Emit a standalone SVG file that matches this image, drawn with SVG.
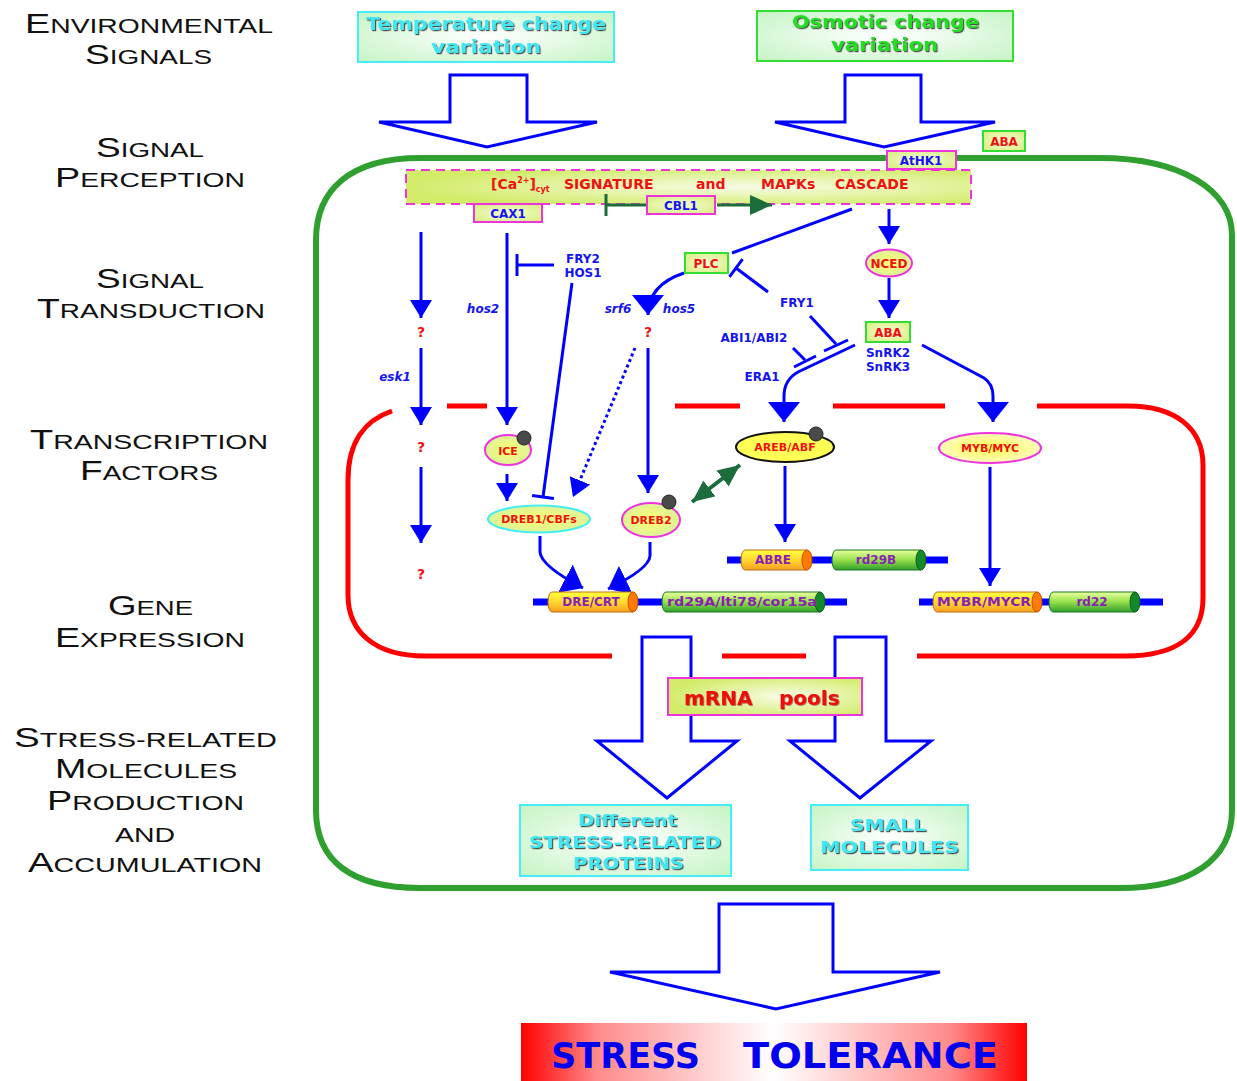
<svg xmlns="http://www.w3.org/2000/svg" width="1237" height="1081" viewBox="0 0 1237 1081">
<defs>
<style>
.lab{font-family:"Liberation Sans",Arial,sans-serif;fill:#111;}
.b{font-family:"DejaVu Sans",Verdana,sans-serif;font-weight:bold;}
.blue{fill:#1414ee;}
.red{fill:#ee1111;}
.purple{fill:#8a1fb4;}
.ln{fill:none;stroke:#0000ff;stroke-width:3;}
.hollow{fill:#fff;stroke:#0000ff;stroke-width:3;stroke-linejoin:miter;}
.nuc{fill:none;stroke:#ff0000;stroke-width:5;}
.cyan{fill:#42e6f0;}
.grn{fill:#22dd22;}
</style>
<filter id="sh" x="-10%" y="-20%" width="120%" height="150%"><feDropShadow dx="1.2" dy="1.2" stdDeviation="0.5" flood-color="#333" flood-opacity="0.85"/></filter>
<filter id="sh2" x="-10%" y="-20%" width="120%" height="150%"><feDropShadow dx="0.8" dy="0.8" stdDeviation="0.4" flood-color="#600" flood-opacity="0.6"/></filter>
<radialGradient id="gBox" cx="0.5" cy="0.5" r="0.7"><stop offset="0" stop-color="#ffffff"/><stop offset="1" stop-color="#c4f4c4"/></radialGradient>
<radialGradient id="gSmall" cx="0.5" cy="0.5" r="0.7"><stop offset="0" stop-color="#f6fbd6"/><stop offset="1" stop-color="#d6ee7a"/></radialGradient>
<radialGradient id="gDash" cx="0.6" cy="0.5" r="0.6"><stop offset="0" stop-color="#f8fce6"/><stop offset="1" stop-color="#d2ec6a"/></radialGradient>
<radialGradient id="gEll" cx="0.5" cy="0.5" r="0.6"><stop offset="0" stop-color="#ffff70"/><stop offset="1" stop-color="#d4f0a0"/></radialGradient>
<radialGradient id="gYel" cx="0.5" cy="0.5" r="0.6"><stop offset="0" stop-color="#ffff50"/><stop offset="1" stop-color="#fffbd0"/></radialGradient>
<linearGradient id="gOr" x1="0" y1="0" x2="0" y2="1"><stop offset="0" stop-color="#ffff40"/><stop offset="0.5" stop-color="#ffd830"/><stop offset="1" stop-color="#f4a020"/></linearGradient>
<linearGradient id="gGr" x1="0" y1="0" x2="0" y2="1"><stop offset="0" stop-color="#e8ffa0"/><stop offset="0.5" stop-color="#96e04a"/><stop offset="1" stop-color="#2f9f2f"/></linearGradient>
<linearGradient id="gTol" x1="0" y1="0" x2="1" y2="0"><stop offset="0" stop-color="#ff0000"/><stop offset="0.15" stop-color="#ff8a8a"/><stop offset="0.5" stop-color="#ffffff"/><stop offset="0.85" stop-color="#ff8a8a"/><stop offset="1" stop-color="#ff0000"/></linearGradient>
<marker id="ah" markerUnits="userSpaceOnUse" markerWidth="18" markerHeight="22" viewBox="0 0 18 22" refX="18" refY="11" orient="auto"><path d="M0,0 L18,11 L0,22 Z" fill="#0000ff"/></marker>
<marker id="big" markerUnits="userSpaceOnUse" markerWidth="20" markerHeight="32" viewBox="0 0 20 32" refX="20" refY="16" orient="auto"><path d="M0,0 L20,16 L0,32 Z" fill="#0000ff"/></marker>
<marker id="tb" markerUnits="userSpaceOnUse" markerWidth="4" markerHeight="22" viewBox="0 0 4 22" refX="2" refY="11" orient="auto"><path d="M2,0 L2,22" stroke="#0000ff" stroke-width="3"/></marker>
<marker id="gtb" markerUnits="userSpaceOnUse" markerWidth="4" markerHeight="22" viewBox="0 0 4 22" refX="2" refY="11" orient="auto"><path d="M2,0 L2,22" stroke="#1b6e3c" stroke-width="3"/></marker>
<marker id="gah" markerUnits="userSpaceOnUse" markerWidth="22" markerHeight="20" viewBox="0 0 22 20" refX="22" refY="10" orient="auto-start-reverse"><path d="M0,0 L22,10 L0,20 Z" fill="#1b6e3c"/></marker>
</defs>
<rect width="1237" height="1081" fill="#fff"/>

<!-- left labels -->
<g id="labels" class="lab">
<text x="25" y="33" textLength="248" lengthAdjust="spacingAndGlyphs"><tspan font-size="28">E</tspan><tspan font-size="21">NVIRONMENTAL</tspan></text>
<text x="85" y="64" textLength="127" lengthAdjust="spacingAndGlyphs"><tspan font-size="28">S</tspan><tspan font-size="21">IGNALS</tspan></text>
<text x="96" y="157" textLength="108" lengthAdjust="spacingAndGlyphs"><tspan font-size="28">S</tspan><tspan font-size="21">IGNAL</tspan></text>
<text x="55" y="187" textLength="190" lengthAdjust="spacingAndGlyphs"><tspan font-size="28">P</tspan><tspan font-size="21">ERCEPTION</tspan></text>
<text x="96" y="288" textLength="108" lengthAdjust="spacingAndGlyphs"><tspan font-size="28">S</tspan><tspan font-size="21">IGNAL</tspan></text>
<text x="37" y="318" textLength="228" lengthAdjust="spacingAndGlyphs"><tspan font-size="28">T</tspan><tspan font-size="21">RANSDUCTION</tspan></text>
<text x="30" y="449" textLength="238" lengthAdjust="spacingAndGlyphs"><tspan font-size="28">T</tspan><tspan font-size="21">RANSCRIPTION</tspan></text>
<text x="80" y="480" textLength="138" lengthAdjust="spacingAndGlyphs"><tspan font-size="28">F</tspan><tspan font-size="21">ACTORS</tspan></text>
<text x="108" y="615" textLength="85" lengthAdjust="spacingAndGlyphs"><tspan font-size="28">G</tspan><tspan font-size="21">ENE</tspan></text>
<text x="55" y="647" textLength="190" lengthAdjust="spacingAndGlyphs"><tspan font-size="28">E</tspan><tspan font-size="21">XPRESSION</tspan></text>
<text x="14" y="747" textLength="263" lengthAdjust="spacingAndGlyphs"><tspan font-size="28">S</tspan><tspan font-size="21">TRESS-RELATED</tspan></text>
<text x="55" y="778" textLength="182" lengthAdjust="spacingAndGlyphs"><tspan font-size="28">M</tspan><tspan font-size="21">OLECULES</tspan></text>
<text x="47" y="810" textLength="197" lengthAdjust="spacingAndGlyphs"><tspan font-size="28">P</tspan><tspan font-size="21">RODUCTION</tspan></text>
<text x="115" y="842" textLength="60" lengthAdjust="spacingAndGlyphs" font-size="21">AND</text>
<text x="28" y="872" textLength="234" lengthAdjust="spacingAndGlyphs"><tspan font-size="28">A</tspan><tspan font-size="21">CCUMULATION</tspan></text>
</g>

<!-- containers -->
<g id="cell">
<path d="M420,158 L1100,158 C1180,158 1232,190 1232,235 L1232,810 C1232,860 1190,888 1120,888 L420,888 C350,888 316,860 316,810 L316,240 C316,190 350,158 420,158 Z" fill="none" stroke="#2fa02f" stroke-width="6"/>
</g>
<g id="nucleus" class="nuc">
<path d="M392,411 C365,420 348,442 348,480 L348,595 C348,632 375,656 425,656 L612,656"/>
<path d="M447,406 L487,406"/>
<path d="M675,406 L740,406"/>
<path d="M833,406 L945,406"/>
<path d="M1037,406 L1128,406 C1175,406 1203,428 1203,465 L1203,598 C1203,635 1178,656 1125,656 L917,656"/>
<path d="M722,656 L806,656"/>
</g>

<!-- top signal boxes -->
<g id="temp">
<rect x="358" y="12" width="256" height="50" fill="url(#gBox)" stroke="#44eef4" stroke-width="2"/>
<text class="b cyan" filter="url(#sh)" font-size="17" x="366" y="30" textLength="240" lengthAdjust="spacingAndGlyphs">Temperature change</text>
<text class="b cyan" filter="url(#sh)" font-size="17" x="431" y="53" textLength="110" lengthAdjust="spacingAndGlyphs">variation</text>
</g>
<g id="osmotic">
<rect x="757" y="11" width="256" height="50" fill="url(#gBox)" stroke="#33dd33" stroke-width="2"/>
<text class="b grn" filter="url(#sh)" font-size="17" x="792" y="28" textLength="187" lengthAdjust="spacingAndGlyphs">Osmotic change</text>
<text class="b grn" filter="url(#sh)" font-size="17" x="831" y="51" textLength="107" lengthAdjust="spacingAndGlyphs">variation</text>
</g>

<!-- hollow block arrows -->
<g id="blockarrows">
<path class="hollow" d="M450,75 L527,75 L527,122 L597,122 L487,147 L379,122 L450,122 Z"/>
<path class="hollow" d="M845,75 L921,75 L921,122 L995,122 L884,147 L775,122 L845,122 Z"/>
<path class="hollow" d="M642,637 L691,637 L691,741 L737,741 L667,798 L597,741 L642,741 Z"/>
<path class="hollow" d="M835,637 L886,637 L886,741 L931,741 L860,798 L790,741 L835,741 Z"/>
<path class="hollow" d="M719,904 L833,904 L833,972 L940,972 L776,1009 L610,972 L719,972 Z"/>
</g>

<!-- perception -->
<g id="cascade">
<rect x="406" y="170" width="565" height="34" fill="url(#gDash)" stroke="#ee33dd" stroke-width="2" stroke-dasharray="9,6"/>
<text class="b red" font-size="14" y="189"><tspan x="491">[Ca</tspan><tspan font-size="8" dy="-6">2+</tspan><tspan dy="6">]</tspan><tspan font-size="8" dy="3">cyt</tspan><tspan x="564" dy="-3">SIGNATURE</tspan><tspan x="696">and</tspan><tspan x="761">MAPKs</tspan><tspan x="835">CASCADE</tspan></text>
</g>
<g id="aba-top">
<rect x="983" y="131" width="42" height="20" fill="url(#gSmall)" stroke="#33dd33" stroke-width="2"/>
<text class="b red" font-size="12" x="1004" y="146" text-anchor="middle">ABA</text>
</g>
<g id="athk1">
<rect x="887" y="151" width="69" height="18" fill="url(#gSmall)" stroke="#ee33dd" stroke-width="2"/>
<text class="b blue" font-size="12" x="921" y="165" text-anchor="middle">AtHK1</text>
</g>
<g id="cax1">
<rect x="474" y="204" width="68" height="18" fill="url(#gSmall)" stroke="#ee33dd" stroke-width="2"/>
<text class="b blue" font-size="12" x="508" y="218" text-anchor="middle">CAX1</text>
</g>
<g id="cbl1">
<rect x="647" y="196" width="68" height="18" fill="url(#gSmall)" stroke="#ee33dd" stroke-width="2"/>
<text class="b blue" font-size="12" x="681" y="210" text-anchor="middle">CBL1</text>
</g>

<!-- connectors -->
<g id="connectors">
<path d="M646,205 L606,205" fill="none" stroke="#1b6e3c" stroke-width="3" marker-end="url(#gtb)"/>
<path d="M717,205 L772,205" fill="none" stroke="#1b6e3c" stroke-width="3" marker-end="url(#gah)"/>
<path class="ln" d="M421,232 L421,318" marker-end="url(#ah)"/>
<path class="ln" d="M421,348 L421,425" marker-end="url(#ah)"/>
<path class="ln" d="M421,467 L421,543" marker-end="url(#ah)"/>
<path class="ln" d="M507,233 L507,425" marker-end="url(#ah)"/>
<path class="ln" d="M554,265 L517,265" marker-end="url(#tb)"/>
<path class="ln" d="M572,283 L543,497" marker-end="url(#tb)"/>
<path class="ln" d="M635,348 L573,497" stroke-dasharray="3,3" marker-end="url(#ah)"/>
<path class="ln" d="M852,209 L732,253"/>
<path class="ln" d="M684,273 Q648,285 648,315" marker-end="url(#big)"/>
<path class="ln" d="M648,348 L648,493" marker-end="url(#ah)"/>
<path class="ln" d="M768,292 L736,268" marker-end="url(#tb)"/>
<path class="ln" d="M810,316 L836,344"/>
<path class="ln" d="M824,351 L848,340"/>
<path class="ln" d="M793,348 L805,360"/>
<path class="ln" d="M794,367 L816,356"/>
<path class="ln" d="M855,345 L798,372 Q784,380 784,396 L784,422" marker-end="url(#big)"/>
<path class="ln" d="M922,345 L984,378 Q993,384 993,396 L993,422" marker-end="url(#big)"/>
<path class="ln" d="M889,209 L889,244" marker-end="url(#ah)"/>
<path class="ln" d="M889,278 L889,318" marker-end="url(#ah)"/>
<path class="ln" d="M507,474 L507,501" marker-end="url(#ah)"/>
<path class="ln" d="M785,466 L785,542" marker-end="url(#ah)"/>
<path class="ln" d="M990,467 L990,586" marker-end="url(#ah)"/>
<path class="ln" d="M540,536 L540,552 Q541,566 583,588" marker-end="url(#big)"/>
<path class="ln" d="M650,542 L650,556 Q649,569 608,589" marker-end="url(#big)"/>
<path d="M692,502 L740,465" fill="none" stroke="#1b6e3c" stroke-width="4" marker-start="url(#gah)" marker-end="url(#gah)"/>
<path d="M727,560 L948,560 M533,602 L847,602 M919,602 L1163,602" fill="none" stroke="#0000ff" stroke-width="7"/>
</g>

<!-- transduction labels -->
<g id="tlabels" class="b" font-size="12">
<text class="red" font-size="14" x="421" y="337" text-anchor="middle">?</text>
<text class="red" font-size="14" x="421" y="452" text-anchor="middle">?</text>
<text class="red" font-size="14" x="421" y="579" text-anchor="middle">?</text>
<text class="red" font-size="14" x="648" y="337" text-anchor="middle">?</text>
<text class="blue" font-style="italic" x="395" y="381" text-anchor="middle">esk1</text>
<text class="blue" font-style="italic" x="483" y="313" text-anchor="middle">hos2</text>
<text class="blue" font-style="italic" x="618" y="313" text-anchor="middle">srf6</text>
<text class="blue" font-style="italic" x="679" y="313" text-anchor="middle">hos5</text>
<text class="blue" x="583" y="263" text-anchor="middle">FRY2</text>
<text class="blue" x="583" y="277" text-anchor="middle">HOS1</text>
<text class="blue" x="797" y="307" text-anchor="middle">FRY1</text>
<text class="blue" x="754" y="342" text-anchor="middle">ABI1/ABI2</text>
<text class="blue" x="762" y="381" text-anchor="middle">ERA1</text>
<text class="blue" x="888" y="357" text-anchor="middle">SnRK2</text>
<text class="blue" x="888" y="371" text-anchor="middle">SnRK3</text>
</g>

<!-- transduction nodes -->
<g id="plc">
<rect x="685" y="253" width="43" height="20" fill="url(#gSmall)" stroke="#33dd33" stroke-width="2"/>
<text class="b red" font-size="12" x="706" y="268" text-anchor="middle">PLC</text>
</g>
<g id="nced">
<ellipse cx="889" cy="263" rx="23" ry="13.5" fill="url(#gEll)" stroke="#ee33dd" stroke-width="2"/>
<text class="b red" font-size="12" x="889" y="268" text-anchor="middle">NCED</text>
</g>
<g id="aba">
<rect x="866" y="322" width="44" height="20" fill="url(#gSmall)" stroke="#33dd33" stroke-width="2"/>
<text class="b red" font-size="12" x="888" y="337" text-anchor="middle">ABA</text>
</g>

<!-- transcription factors -->
<g id="ice">
<ellipse cx="508" cy="450" rx="23" ry="15" fill="url(#gEll)" stroke="#ee33dd" stroke-width="2"/>
<circle cx="524" cy="438" r="7" fill="#4a4a4a" stroke="#222" stroke-width="1"/>
<text class="b red" font-size="11" x="508" y="455" text-anchor="middle">ICE</text>
</g>
<g id="dreb1">
<ellipse cx="539" cy="519" rx="51" ry="13.5" fill="url(#gEll)" stroke="#44eef4" stroke-width="2"/>
<text class="b red" font-size="11" x="539" y="523" text-anchor="middle">DREB1/CBFs</text>
</g>
<g id="dreb2">
<ellipse cx="651" cy="520" rx="29" ry="17" fill="url(#gEll)" stroke="#ee33dd" stroke-width="2"/>
<circle cx="669" cy="502" r="7" fill="#4a4a4a" stroke="#222" stroke-width="1"/>
<text class="b red" font-size="11" x="651" y="524" text-anchor="middle">DREB2</text>
</g>
<g id="areb">
<ellipse cx="785" cy="447" rx="49" ry="15" fill="#ffff55" stroke="#111" stroke-width="2"/>
<circle cx="816" cy="434" r="7" fill="#4a4a4a" stroke="#222" stroke-width="1"/>
<text class="b red" font-size="11" x="785" y="451" text-anchor="middle">AREB/ABF</text>
</g>
<g id="mybmyc">
<ellipse cx="990" cy="448" rx="51" ry="15" fill="url(#gYel)" stroke="#ee33dd" stroke-width="2"/>
<text class="b red" font-size="11" x="990" y="452" text-anchor="middle">MYB/MYC</text>
</g>

<!-- genes -->
<g id="abre">
<path d="M745,550 L807,550 L807,570 L745,570 A4,10 0 0 1 745,550 Z" fill="url(#gOr)" stroke="#c07010" stroke-width="1"/>
<ellipse cx="807" cy="560" rx="5" ry="10" fill="#ff7a00" stroke="#c05000" stroke-width="1"/>
<text class="b purple" font-size="12" x="773" y="564" text-anchor="middle">ABRE</text>
</g>
<g id="rd29b">
<path d="M836,550 L921,550 L921,570 L836,570 A4,10 0 0 1 836,550 Z" fill="url(#gGr)" stroke="#1a7a1a" stroke-width="1"/>
<ellipse cx="921" cy="560" rx="5" ry="10" fill="#138a2a" stroke="#0b5a1a" stroke-width="1"/>
<text class="b purple" font-size="12" x="876" y="564" text-anchor="middle">rd29B</text>
</g>
<g id="drecrt">
<path d="M552,592 L633,592 L633,612 L552,612 A4,10 0 0 1 552,592 Z" fill="url(#gOr)" stroke="#c07010" stroke-width="1"/>
<ellipse cx="633" cy="602" rx="5" ry="10" fill="#ff7a00" stroke="#c05000" stroke-width="1"/>
<text class="b purple" font-size="12" x="591" y="606" text-anchor="middle">DRE/CRT</text>
</g>
<g id="rd29a">
<path d="M666,592 L820,592 L820,612 L666,612 A4,10 0 0 1 666,592 Z" fill="url(#gGr)" stroke="#1a7a1a" stroke-width="1"/>
<ellipse cx="820" cy="602" rx="5" ry="10" fill="#138a2a" stroke="#0b5a1a" stroke-width="1"/>
<text class="b purple" font-size="12" x="742" y="606" text-anchor="middle" textLength="150" lengthAdjust="spacingAndGlyphs">rd29A/lti78/cor15a</text>
</g>
<g id="mybr">
<path d="M937,592 L1037,592 L1037,612 L937,612 A4,10 0 0 1 937,592 Z" fill="url(#gOr)" stroke="#c07010" stroke-width="1"/>
<ellipse cx="1037" cy="602" rx="5" ry="10" fill="#ff7a00" stroke="#c05000" stroke-width="1"/>
<text class="b purple" font-size="12" x="984" y="606" text-anchor="middle" textLength="94" lengthAdjust="spacingAndGlyphs">MYBR/MYCR</text>
</g>
<g id="rd22">
<path d="M1053,592 L1135,592 L1135,612 L1053,612 A4,10 0 0 1 1053,592 Z" fill="url(#gGr)" stroke="#1a7a1a" stroke-width="1"/>
<ellipse cx="1135" cy="602" rx="5" ry="10" fill="#138a2a" stroke="#0b5a1a" stroke-width="1"/>
<text class="b purple" font-size="12" x="1092" y="606" text-anchor="middle">rd22</text>
</g>

<!-- outputs -->
<g id="mrna">
<rect x="668" y="678" width="194" height="37" fill="url(#gDash)" stroke="#ee33dd" stroke-width="2"/>
<text class="b red" filter="url(#sh2)" font-size="20" y="705"><tspan x="684">mRNA</tspan><tspan x="779">pools</tspan></text>
</g>
<g id="proteins">
<rect x="520" y="805" width="211" height="71" fill="url(#gBox)" stroke="#44eef4" stroke-width="2"/>
<text class="b cyan" filter="url(#sh)" font-size="15" x="578" y="826" textLength="99" lengthAdjust="spacingAndGlyphs">Different</text>
<text class="b cyan" filter="url(#sh)" font-size="15" x="529" y="848" textLength="192" lengthAdjust="spacingAndGlyphs">STRESS-RELATED</text>
<text class="b cyan" filter="url(#sh)" font-size="15" x="573" y="869" textLength="111" lengthAdjust="spacingAndGlyphs">PROTEINS</text>
</g>
<g id="small">
<rect x="811" y="805" width="157" height="65" fill="url(#gBox)" stroke="#44eef4" stroke-width="2"/>
<text class="b cyan" filter="url(#sh)" font-size="16" x="850" y="831" textLength="76" lengthAdjust="spacingAndGlyphs">SMALL</text>
<text class="b cyan" filter="url(#sh)" font-size="16" x="820" y="853" textLength="139" lengthAdjust="spacingAndGlyphs">MOLECULES</text>
</g>
<g id="tolerance">
<rect x="521" y="1023" width="506" height="60" fill="url(#gTol)"/>
<text class="b" fill="#0000ee" font-size="36" y="1068"><tspan x="551" textLength="149" lengthAdjust="spacingAndGlyphs">STRESS</tspan><tspan x="743" textLength="255" lengthAdjust="spacingAndGlyphs">TOLERANCE</tspan></text>
</g>
</svg>
